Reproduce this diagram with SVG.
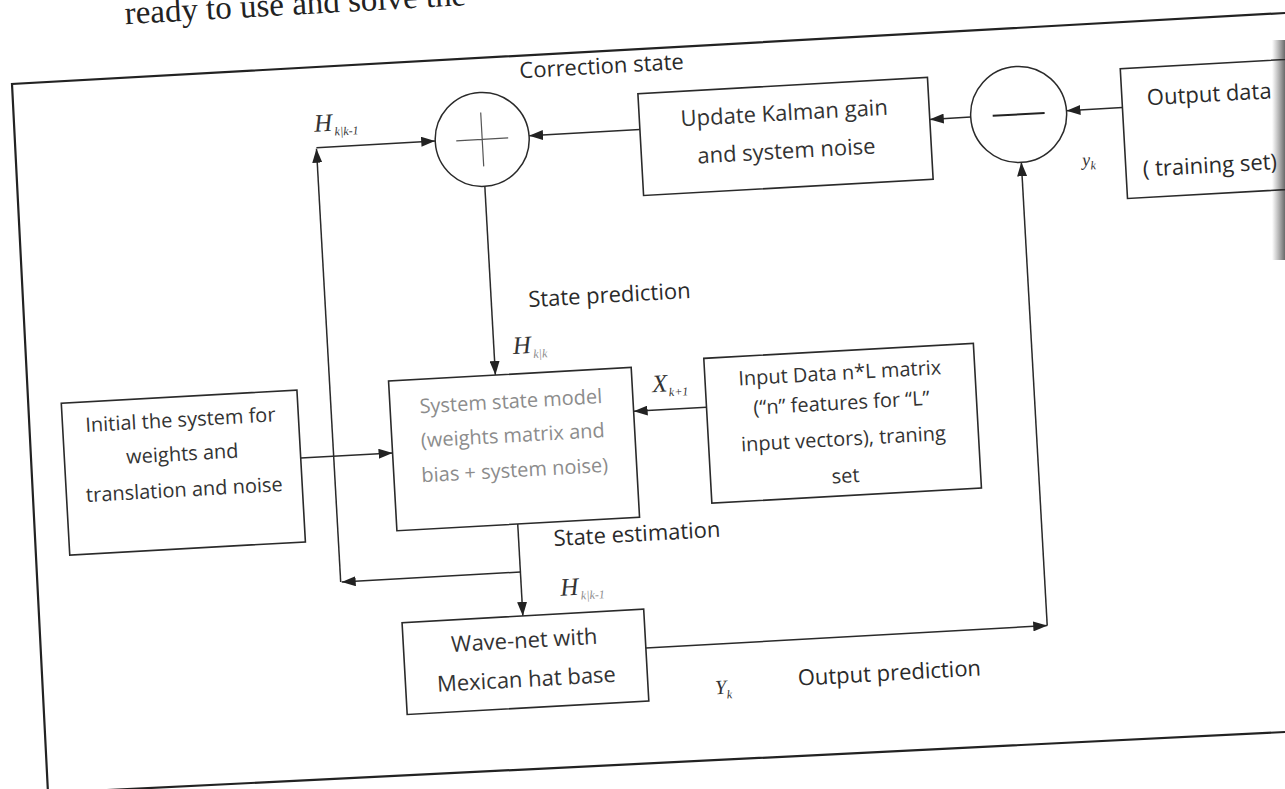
<svg xmlns="http://www.w3.org/2000/svg" width="1285" height="789" viewBox="0 0 1285 789">
<style>
.box{fill:none;stroke:#2a2a2a;stroke-width:1.6}
.circ{fill:none;stroke:#2a2a2a;stroke-width:1.5}
.ln{fill:none;stroke:#2a2a2a;stroke-width:1.5}
.arr{marker-end:url(#ah)}
.lbl{font-family:"Open Sans","Noto Sans",sans-serif;font-size:22px;fill:#2a2a2a}
.bt{font-family:"Open Sans","Noto Sans",sans-serif;font-size:20px;fill:#333;text-anchor:middle}
.faint{fill:#8c8c8c}
.math{font-family:"Liberation Serif","Times New Roman",serif;font-style:italic;font-size:25px;fill:#333}
.sub{font-size:12px}
.body{font-family:"Liberation Serif","Times New Roman",serif;font-size:33px;fill:#222}
</style>
<defs>
<marker id="ah" viewBox="0 0 14 10" refX="14" refY="5" markerWidth="14" markerHeight="10" orient="auto" markerUnits="userSpaceOnUse">
<path d="M0,0 L14,5 L0,10 z" fill="#222"/>
</marker>
<linearGradient id="scan" x1="0" y1="0" x2="1" y2="0">
<stop offset="0" stop-color="#555" stop-opacity="0"/>
<stop offset="1" stop-color="#444" stop-opacity="0.8"/>
</linearGradient>
</defs>
<rect width="1285" height="789" fill="#fff"/>
<path d="M1285,13 L12,84 L48,793 L1285,732" fill="none" stroke="#222" stroke-width="2.2"/>
<rect x="1272" y="40" width="13" height="220" fill="url(#scan)"/>
<g transform="rotate(-3.2 640 400)">
<text class="body" x="147" y="-4">ready to use and solve the</text>

<g id="connectors">
<path class="ln arr" d="M1138,135 L1082,135"/>
<path class="ln arr" d="M986,136 L945,136"/>
<path class="ln arr" d="M655,130 L544,130"/>
<path class="ln arr" d="M331,130 L450,130"/>
<path class="ln arr" d="M331,565 L331,131"/>
<path class="ln arr" d="M511,565 L332,565"/>
<path class="ln arr" d="M497,178 L497,367"/>
<path class="ln arr" d="M298,439 L390,439"/>
<path class="ln arr" d="M706,411 L633,411"/>
<path class="ln arr" d="M511,517 L511,609"/>
<path class="ln arr" d="M632,648 L1034,648"/>
<path class="ln arr" d="M1034,648 L1034,184"/>
</g>

<g id="labels">
<text class="lbl" x="538" y="72">Correction state</text>
<text class="lbl" x="534" y="301">State prediction</text>
<text class="lbl" x="546" y="541">State estimation</text>
<text class="lbl" x="782" y="694">Output prediction</text>
<text class="math" x="330" y="114">H<tspan class="sub" dx="2" dy="5">k|k-1</tspan></text>
<text class="math" x="516" y="347">H<tspan class="sub faint" dx="2" dy="5">k|k</tspan></text>
<text class="math faint" x="653" y="393">X<tspan class="sub" dx="1" dy="5">k+1</tspan></text>
<text class="math" x="550" y="591">H<tspan class="sub faint" dx="2" dy="5">k|k-1</tspan></text>
<text class="math" x="699" y="698" style="font-size:20px">Y<tspan class="sub" dx="0" dy="5">k</tspan></text>
<text class="math" x="1095" y="191" style="font-size:18px">y<tspan class="sub" dx="0" dy="4">k</tspan></text>
</g>

<g id="plus">
<circle class="circ" cx="497" cy="131" r="47"/>
<path d="M471,131 H523 M497,104 V158" stroke="#555" stroke-width="1.2"/>
</g>
<g id="minus">
<circle class="circ" cx="1034" cy="136" r="48"/>
<path d="M1008,136 H1060" stroke="#222" stroke-width="2"/>
</g>
<g id="update">
<rect class="box" x="655" y="94" width="290" height="102"/>
<text class="bt" x="800" y="129" style="font-size:22px">Update Kalman gain</text>
<text class="bt" x="800" y="167" style="font-size:22px">and system noise</text>
</g>
<g id="output">
<rect class="box" x="1138" y="96" width="220" height="130"/>
<text class="lbl" x="1163" y="134">Output data</text>
<text class="lbl" x="1155" y="205">( training set)</text>
</g>
<g id="initial">
<rect class="box" x="62" y="371" width="236" height="152"/>
<text class="bt" x="180" y="401">Initial the system for</text>
<text class="bt" x="180" y="435">weights and</text>
<text class="bt" x="180" y="471">translation and noise</text>
</g>
<g id="system">
<rect class="box" x="390" y="367" width="243" height="150"/>
<text class="bt faint" x="511" y="401">System state model</text>
<text class="bt faint" x="511" y="435">(weights matrix and</text>
<text class="bt faint" x="511" y="470">bias + system noise)</text>
</g>
<g id="input">
<rect class="box" x="706" y="362" width="270" height="145"/>
<text class="bt" x="841" y="391">Input Data n*L matrix</text>
<text class="bt" x="841" y="421">(“n” features for “L”</text>
<text class="bt" x="841" y="457">input vectors), traning</text>
<text class="bt" x="841" y="494">set</text>
</g>
<g id="wavenet">
<rect class="box" x="390" y="609" width="242" height="92"/>
<text class="bt" x="511" y="641" style="font-size:22px">Wave-net with</text>
<text class="bt" x="511" y="680" style="font-size:22px">Mexican hat base</text>
</g>
</g>
</svg>
